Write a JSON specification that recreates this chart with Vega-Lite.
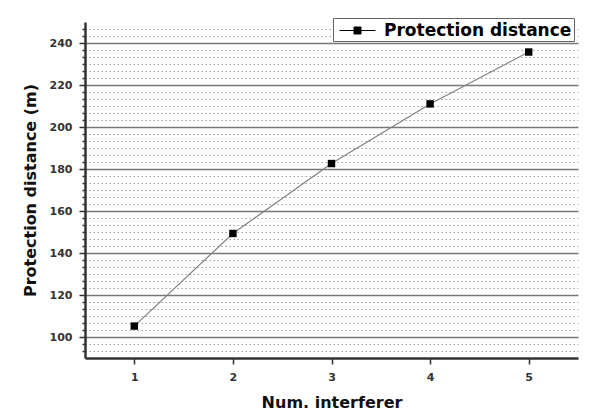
{
  "$schema": "https://vega.github.io/schema/vega-lite/v6.json",
  "width": 493,
  "height": 336,
  "autosize": "none",
  "padding": {"left": 85, "top": 22, "right": 14, "bottom": 60},
  "background": "white",
  "config": {"font": "DejaVu Sans", "view": {"stroke": null}},
  "data": {"values": [
    {"n": 1, "dist": 105.2, "series": "Protection distance"},
    {"n": 2, "dist": 149.3, "series": "Protection distance"},
    {"n": 3, "dist": 182.6, "series": "Protection distance"},
    {"n": 4, "dist": 211.0, "series": "Protection distance"},
    {"n": 5, "dist": 235.7, "series": "Protection distance"}
  ]},
  "encoding": {
    "x": {"field": "n", "type": "quantitative",
      "scale": {"domain": [0.5, 5.5], "nice": false, "zero": false},
      "axis": {"values": [1, 2, 3, 4, 5], "format": "d", "grid": false, "title": "Num. interferer",
        "titleFontSize": 16, "titleFontWeight": "bold", "titleColor": "#111", "titlePadding": 12,
        "labelFontSize": 11, "labelFontWeight": "bold", "labelColor": "#333", "labelPadding": 7,
        "tickSize": 6, "tickWidth": 1.5, "tickColor": "#333", "domainColor": "#333", "domainWidth": 2.5}},
    "y": {"field": "dist", "type": "quantitative",
      "scale": {"domain": [90, 250], "nice": false, "zero": false},
      "axis": {
        "values": [93.333, 96.667, 100, 103.333, 106.667, 110, 113.333, 116.667, 120, 123.333, 126.667, 130, 133.333, 136.667, 140, 143.333, 146.667, 150, 153.333, 156.667, 160, 163.333, 166.667, 170, 173.333, 176.667, 180, 183.333, 186.667, 190, 193.333, 196.667, 200, 203.333, 206.667, 210, 213.333, 216.667, 220, 223.333, 226.667, 230, 233.333, 236.667, 240, 243.333, 246.667],
        "labelExpr": "datum.value % 20 === 0 ? datum.label : ''",
        "labelOverlap": false,
        "title": "Protection distance (m)",
        "titleFontSize": 16, "titleFontWeight": "bold", "titleColor": "#111", "titlePadding": 11,
        "labelFontSize": 11, "labelFontWeight": "bold", "labelColor": "#333", "labelPadding": 7,
        "grid": true,
        "gridColor": {"condition": {"test": "datum.value % 20 === 0", "value": "#777777"}, "value": "#a0a0a0"},
        "gridDash": {"condition": {"test": "datum.value % 20 === 0", "value": []}, "value": [1.5, 2.5]},
        "gridWidth": {"condition": {"test": "datum.value % 20 === 0", "value": 1.3}, "value": 1},
        "tickSize": {"condition": {"test": "datum.value % 20 === 0", "value": 6}, "value": 3},
        "tickWidth": 1.5, "tickColor": "#333", "domainColor": "#333", "domainWidth": 2.5}
    }
  },
  "layer": [
    {
      "mark": {"type": "line", "color": "#808080", "strokeWidth": 1.2}
    },
    {
      "mark": {"type": "point", "shape": "square", "filled": true, "size": 55, "opacity": 1},
      "encoding": {
        "color": {"field": "series", "type": "nominal",
          "scale": {"range": ["#000000"]},
          "legend": {"title": null, "orient": "none", "legendX": 248, "legendY": -4,
            "padding": 2, "strokeColor": "#666666", "fillColor": "white",
            "symbolType": "M-0.6,0H3.0M0.85,-0.35H1.55V0.35H0.85Z", "symbolSize": 400,
            "symbolStrokeColor": "#000000", "symbolFillColor": "#000000", "symbolStrokeWidth": 1,
            "labelFontSize": 17, "labelFontWeight": "bold", "labelColor": "#000", "labelOffset": 28,
            "labelLimit": 400, "labelFont": "DejaVu Sans"}}
      }
    }
  ]
}
